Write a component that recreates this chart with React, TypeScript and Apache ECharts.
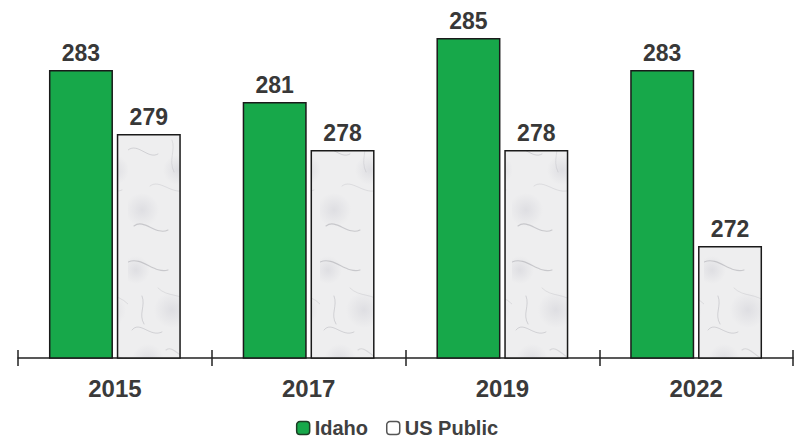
import React, { useEffect, useRef } from "react";
import * as echarts from "echarts";

const categories = ["2015", "2017", "2019", "2022"];
const idahoValues = [283, 281, 285, 283];
const usPublicValues = [279, 278, 278, 272];
const seriesNames = ["Idaho", "US Public"];

function marbleTexture(): string {
  const c = document.createElement("canvas");
  c.width = 64;
  c.height = 240;
  const ctx = c.getContext("2d");
  if (!ctx) return "";
  ctx.fillStyle = "#eeeeef";
  ctx.fillRect(0, 0, 64, 240);
  const soft: number[][] = [
    [8, 30, 14], [44, 70, 18], [20, 120, 16], [50, 170, 15], [14, 210, 17],
  ];
  soft.forEach((e) => {
    const g = ctx.createRadialGradient(e[0], e[1], 0, e[0], e[1], e[2]);
    g.addColorStop(0, "rgba(212,212,218,0.6)");
    g.addColorStop(1, "rgba(212,212,218,0)");
    ctx.fillStyle = g;
    ctx.fillRect(e[0] - e[2], e[1] - e[2], e[2] * 2, e[2] * 2);
  });
  const veins: number[][] = [
    [0, 22, 14, 16, 26, 34, 40, 30],
    [30, 48, 40, 58, 52, 52, 64, 64],
    [4, 90, 12, 80, 22, 98, 34, 92],
    [38, 110, 46, 104, 54, 122, 62, 118],
    [0, 150, 10, 142, 20, 160, 30, 154],
    [22, 186, 32, 178, 44, 196, 58, 190],
    [6, 226, 16, 218, 28, 236, 40, 230],
    [44, 140, 48, 150, 40, 160, 46, 172],
    [14, 56, 18, 66, 10, 74, 16, 84],
  ];
  ctx.lineCap = "round";
  veins.forEach((v, i) => {
    ctx.strokeStyle = i % 2 === 0 ? "rgba(140,140,148,0.38)" : "rgba(165,165,172,0.32)";
    ctx.lineWidth = i % 3 === 0 ? 1.1 : 0.8;
    ctx.beginPath();
    ctx.moveTo(v[0], v[1]);
    ctx.bezierCurveTo(v[2], v[3], v[4], v[5], v[6], v[7]);
    ctx.stroke();
  });
  return c.toDataURL();
}

export default function App() {
  const ref = useRef<HTMLDivElement>(null);
  useEffect(() => {
    if (!ref.current) return;
    const chart = echarts.init(ref.current, undefined, { renderer: "svg" });
    const tex = marbleTexture();
    const labelStyle = {
      show: true,
      position: "top" as const,
      distance: 6,
      fontFamily: "Liberation Sans, Arial, sans-serif",
      fontWeight: "bold" as const,
      fontSize: 23,
      color: "#383838",
    };
    chart.setOption({
      animation: false,
      backgroundColor: "#ffffff",
      grid: { left: 18, right: 1, top: 6, bottom: 83 },
      legend: {
        top: 413,
        left: "center",
        itemWidth: 13,
        itemHeight: 13,
        itemGap: 18,
        icon: "roundRect",
        textStyle: {
          fontFamily: "Liberation Sans, Arial, sans-serif",
          fontWeight: "bold",
          fontSize: 20,
          color: "#404040",
        },
        data: [
          { name: seriesNames[0], itemStyle: { color: "#17a84a", borderColor: "#1d3d25", borderWidth: 1.5 } },
          { name: seriesNames[1], itemStyle: { color: "#ffffff", borderColor: "#555555", borderWidth: 1.5 } },
        ],
      },
      xAxis: [
        {
          type: "category",
          data: categories,
          axisLine: { show: true, lineStyle: { color: "#222222", width: 1.5 } },
          axisTick: { show: true, length: 8, lineStyle: { color: "#222222", width: 1.5 } },
          axisLabel: {
            margin: 18,
            fontFamily: "Liberation Sans, Arial, sans-serif",
            fontWeight: "bold",
            fontSize: 24,
            color: "#3a3a3a",
          },
        },
        {
          type: "category",
          data: categories,
          position: "bottom",
          axisLine: { show: false },
          axisTick: { show: true, inside: true, length: 8, lineStyle: { color: "#222222", width: 1.5 } },
          axisLabel: { show: false },
        },
      ],
      yAxis: {
        type: "value",
        min: 265,
        max: 287,
        show: false,
        splitLine: { show: false },
      },
      series: [
        {
          name: seriesNames[0],
          type: "bar",
          data: idahoValues,
          barWidth: 64,
          barGap: "6%",
          itemStyle: { color: "#17a84a", borderColor: "#1a1a1a", borderWidth: 1.5 },
          label: labelStyle,
        },
        {
          name: seriesNames[1],
          type: "bar",
          data: usPublicValues,
          barWidth: 64,
          barGap: "6%",
          itemStyle: {
            color: tex
              ? { image: tex, repeat: "repeat", imageWidth: 64, imageHeight: 240 }
              : "#ececec",
            borderColor: "#1a1a1a",
            borderWidth: 1.5,
          },
          label: labelStyle,
        },
      ],
    } as any);
    return () => chart.dispose();
  }, []);
  return <div ref={ref} style={{ width: 794, height: 441, position: "absolute", left: 0, top: 0 }} />;
}
